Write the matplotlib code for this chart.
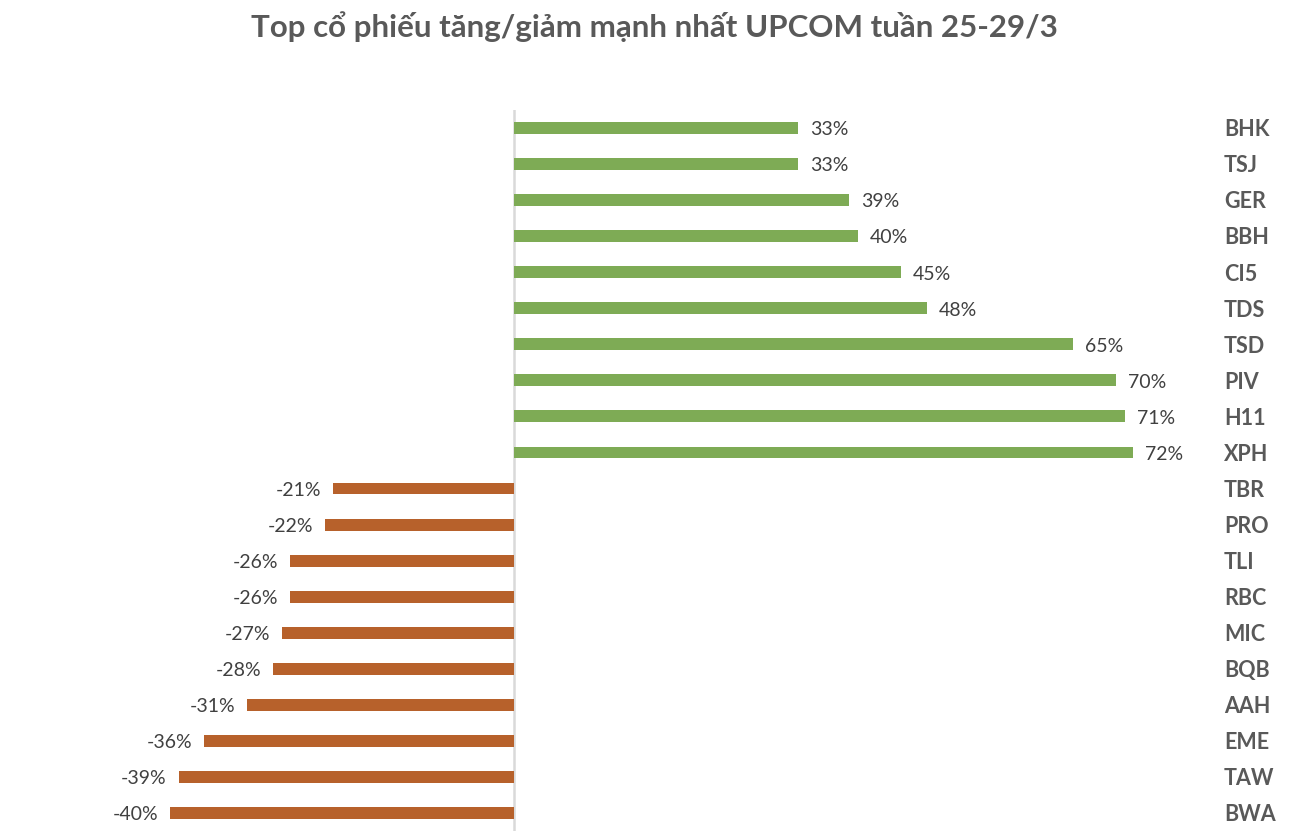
import matplotlib.pyplot as plt
import numpy as np

plt.rcParams['font.family'] = ['Lato', 'DejaVu Sans']

tickers = ["BHK", "TSJ", "GER", "BBH", "CI5", "TDS", "TSD", "PIV", "H11", "XPH",
           "TBR", "PRO", "TLI", "RBC", "MIC", "BQB", "AAH", "EME", "TAW", "BWA"]
changes = [33, 33, 39, 40, 45, 48, 65, 70, 71, 72,
           -21, -22, -26, -26, -27, -28, -31, -36, -39, -40]

title = "Top cổ phiếu tăng/giảm mạnh nhất UPCOM tuần 25-29/3"

green = "#7EAB55"
orange = "#B7612B"

fig = plt.figure(figsize=(13.08, 8.38), dpi=100)
ax = fig.add_axes([0.0774, 0.00835, 0.8416, 0.8604])

ypos = np.arange(len(tickers))
colors = [green if v >= 0 else orange for v in changes]
ax.barh(ypos, changes, height=0.33, color=colors, zorder=2)

ax.set_xlim(-48, 80)
ax.set_ylim(len(tickers) - 0.5, -0.5)
ax.axvline(0, color="#D9D9D9", lw=1.8, zorder=1)

for y, v in zip(ypos, changes):
    if v >= 0:
        ax.text(v + 1.4, y + 0.05, f"{v}%", ha="left", va="center",
                fontsize=14, color="#404040")
    else:
        ax.text(v - 1.4, y + 0.05, f"{v}%", ha="right", va="center",
                fontsize=14, color="#404040")

tr = ax.get_yaxis_transform()
for y, name in zip(ypos, tickers):
    ax.text(1.02, y + 0.05, name, transform=tr, ha="left", va="center",
            fontsize=15.5, fontweight="bold", color="#595959")

for s in ax.spines.values():
    s.set_visible(False)
ax.set_xticks([])
ax.set_yticks([])

fig.text(0.5, 0.968, title, ha="center", va="center", fontsize=22.5,
         fontweight="bold", color="#595959")

fig.savefig("out.png", dpi=100)
